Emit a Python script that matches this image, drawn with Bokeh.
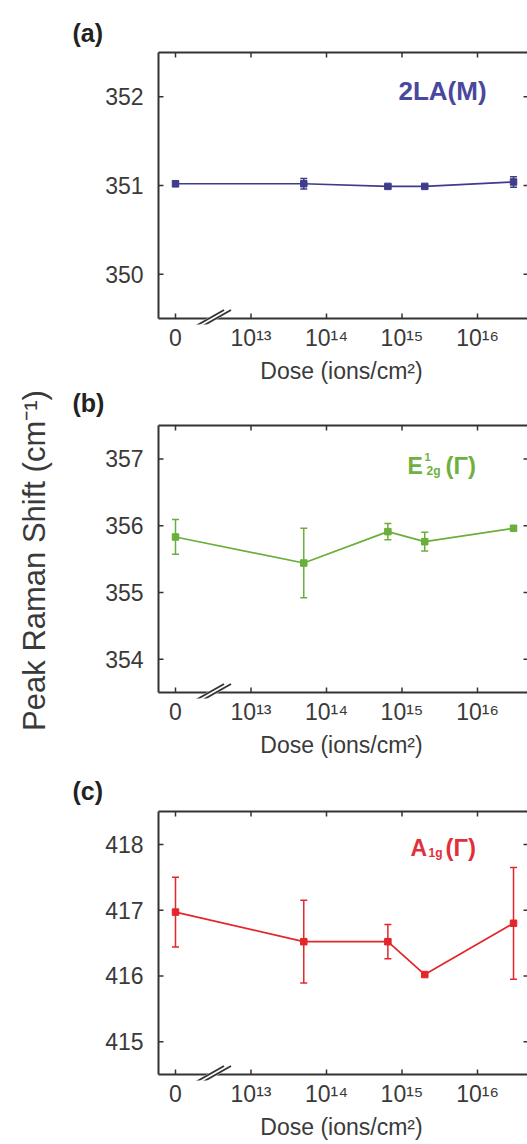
import math
from bokeh.plotting import figure
from bokeh.models import (ColumnDataSource, FixedTicker, Label, Whisker, TeeHead,
                          Range1d, Arrow, Title)
from bokeh.layouts import column, row
from bokeh.embed import file_html
from bokeh.resources import INLINE

# ---------------- data ----------------
dose = [0, 5e13, 6.5e14, 2e15, 3e16]                 # ions/cm^2
x_ticks = [12, 13, 14, 15, 16]                        # axis positions (log10 dose; 12 = zero dose)
x_tick_labels = ["0", "10¹³", "10¹⁴", "10¹⁵", "10¹⁶"]
zero_dose_position = 12

shift_2la = [351.02, 351.02, 350.99, 350.99, 351.04]
err_2la = [0.03, 0.06, 0.02, 0.02, 0.06]

shift_e2g = [355.83, 355.44, 355.91, 355.76, 355.96]
err_e2g = [0.26, 0.52, 0.12, 0.14, 0.03]

shift_a1g = [416.97, 416.52, 416.52, 416.02, 416.80]
err_a1g = [0.53, 0.63, 0.26, 0.02, 0.85]

y_ticks_a = [350, 351, 352]
y_ticks_b = [354, 355, 356, 357]
y_ticks_c = [415, 416, 417, 418]
y_range_a = (349.5, 352.5)
y_range_b = (353.5, 357.5)
y_range_c = (414.5, 418.5)

x_label = "Dose (ions/cm²)"
y_label = "Peak Raman Shift (cm⁻¹)"

# ---------------- style ----------------
FONT = "Liberation Sans"
AX = "#333333"
PAGE_W, PAGE_H = 527, 1144
LEFT_W = 60                        # strip holding the shared y label
FIG_W = PAGE_W - LEFT_W
FRAME_L = 155                      # frame left (page px)
BOX_L = 158                        # drawn box left (page px)
FRAME_W = PAGE_W - FRAME_L
PX_PER_DECADE = 75.5
ZERO_PX = 175
X_START = zero_dose_position - (ZERO_PX - FRAME_L) / PX_PER_DECADE
X_END = X_START + FRAME_W / PX_PER_DECADE
X_BOX = zero_dose_position - (ZERO_PX - BOX_L) / PX_PER_DECADE
PAD_TOP, PAD_BOT = 3, 6
LETTER_OFFSET = -(FRAME_L - 72)

x_pos = [zero_dose_position if d == 0 else math.log10(d) for d in dose]


def letter_title(text, standoff):
    return Title(text=text, text_font=FONT, text_font_size="25px", text_font_style="bold",
                 text_color="#222222", align="left", offset=LETTER_OFFSET, standoff=standoff)


panels = [
    dict(top_letter=("(a)", 6), bottom_letter=("(b)", 0),
         values=shift_2la, errors=err_2la, color="#3f3c8c", text_color="#4a489c",
         y_range=y_range_a, y_ticks=y_ticks_a, height=422, top=49, box_h=266,
         mode=[("2LA(M)", 240, -38, 26)]),
    dict(top_letter=None, bottom_letter=None,
         values=shift_e2g, errors=err_e2g, color="#6aae3c", text_color="#6fb040",
         y_range=y_range_b, y_ticks=y_ticks_b, height=348, top=0, box_h=267,
         mode=[("E", 249, -40, 23), ("1", 266, -31, 11), ("2g", 268, -45, 12),
               ("(Γ)", 287, -40, 24)]),
    dict(top_letter=("(c)", 7), bottom_letter=None,
         values=shift_a1g, errors=err_a1g, color="#e3262b", text_color="#e0303a",
         y_range=y_range_c, y_ticks=y_ticks_c, height=374, top=38, box_h=263,
         mode=[("A", 252, -36, 23), ("1g", 270, -41, 12), ("(Γ)", 287, -36, 24)]),
]

figs = []
for pa in panels:
    y0, y1 = pa["y_range"]
    pyu = pa["box_h"] / (y1 - y0)          # px per data unit (y)
    ppx = PX_PER_DECADE                    # px per data unit (x)
    frame_h = pa["box_h"] + PAD_TOP + PAD_BOT
    bottom = pa["height"] - pa["top"] - frame_h
    p = figure(width=FIG_W, height=pa["height"], output_backend="svg", toolbar_location=None,
               x_range=Range1d(X_START, X_END),
               y_range=Range1d(y0 - PAD_BOT / pyu, y1 + PAD_TOP / pyu),
               min_border_left=FRAME_L - LEFT_W, min_border_right=0,
               min_border_top=pa["top"], min_border_bottom=bottom, title=None)
    p.outline_line_color = None
    p.grid.visible = False
    p.background_fill_color = "white"
    p.border_fill_color = "white"

    if pa["top_letter"]:
        p.title = letter_title(*pa["top_letter"])

    # axes: labels only (box and ticks drawn below as glyphs)
    for ax in (p.xaxis[0], p.yaxis[0]):
        ax.axis_line_color = None
        ax.major_tick_line_color = None
        ax.major_tick_in = 0
        ax.major_tick_out = 0
        ax.minor_tick_line_color = None
        ax.major_label_text_font = FONT
        ax.major_label_text_font_size = "23px"
        ax.major_label_text_color = "#3a3a3a"
        ax.axis_label_text_font = FONT
        ax.axis_label_text_font_style = "normal"
        ax.axis_label_text_color = "#3a3a3a"

    p.xaxis.ticker = FixedTicker(ticks=x_ticks)
    p.xaxis.major_label_overrides = {t: lab for t, lab in zip(x_ticks, x_tick_labels)}
    p.xaxis.major_label_standoff = 0
    p.xaxis.axis_label = x_label
    p.xaxis.axis_label_text_font_size = "23px"
    p.xaxis.axis_label_standoff = 4

    if pa["bottom_letter"]:
        p.add_layout(letter_title(*pa["bottom_letter"]), "below")

    p.yaxis.ticker = FixedTicker(ticks=pa["y_ticks"])
    p.yaxis.major_label_standoff = 12

    # plot box
    box = dict(x0=[X_BOX, X_BOX, X_BOX], y0=[y0, y0, y1],
               x1=[X_BOX, X_END, X_END], y1=[y1, y0, y1])
    p.segment(x0="x0", y0="y0", x1="x1", y1="y1", source=ColumnDataSource(box),
              line_color=AX, line_width=2)
    # inward ticks
    nyt = len(pa["y_ticks"])
    tk_x0 = x_ticks + x_ticks + [X_BOX] * nyt + [X_END - 4 / ppx] * nyt
    tk_x1 = x_ticks + x_ticks + [X_BOX + 5 / ppx] * nyt + [X_END] * nyt
    tk_y0 = [y0] * len(x_ticks) + [y1] * len(x_ticks) + pa["y_ticks"] + pa["y_ticks"]
    tk_y1 = [y0 + 5 / pyu] * len(x_ticks) + [y1 - 5 / pyu] * len(x_ticks) + pa["y_ticks"] + pa["y_ticks"]
    p.segment(x0=tk_x0, y0=tk_y0, x1=tk_x1, y1=tk_y1, line_color=AX, line_width=1.5)

    # data
    src = ColumnDataSource(dict(
        x=x_pos, y=pa["values"],
        upper=[v + e for v, e in zip(pa["values"], pa["errors"])],
        lower=[v - e for v, e in zip(pa["values"], pa["errors"])],
    ))
    c = pa["color"]
    p.line("x", "y", source=src, line_color=c, line_width=1.7)
    p.add_layout(Whisker(source=src, base="x", upper="upper", lower="lower",
                         line_color=c, line_width=1.5,
                         upper_head=TeeHead(size=7, line_color=c, line_width=1.5),
                         lower_head=TeeHead(size=7, line_color=c, line_width=1.5)))
    p.scatter("x", "y", source=src, marker="square", size=6.5, fill_color=c, line_color=c)

    # axis-break marker
    xb = 12.49
    p.add_layout(Arrow(end=None, x_start=xb - 13 / ppx, y_start=y0 - 7.5 / pyu,
                       x_end=xb + 13 / ppx, y_end=y0 + 7.5 / pyu,
                       line_color="white", line_width=6))
    for off in (-3.5, 3.5):
        p.add_layout(Arrow(end=None, x_start=xb + (off - 15) / ppx, y_start=y0 - 8.5 / pyu,
                           x_end=xb + (off + 15) / ppx, y_end=y0 + 8.5 / pyu,
                           line_color=AX, line_width=1.8))

    # mode label
    for txt, dx, dy, size in pa["mode"]:
        p.add_layout(Label(x=X_BOX, y=y1, x_offset=dx, y_offset=dy, text=txt,
                           text_font=FONT, text_font_size=f"{size}px", text_font_style="bold",
                           text_color=pa["text_color"], text_baseline="alphabetic",
                           text_align="left"))
    figs.append(p)

# shared y label strip, its frame aligned with the middle panel's frame
mid_top = panels[0]["height"] + panels[1]["top"]
mid_bot = mid_top + panels[1]["box_h"] + PAD_TOP + PAD_BOT
lab = figure(width=LEFT_W, height=PAGE_H, output_backend="svg", toolbar_location=None,
             x_range=Range1d(0, 1), y_range=Range1d(0, 1), title=None,
             min_border_left=55, min_border_right=0,
             min_border_top=mid_top, min_border_bottom=PAGE_H - mid_bot,
             x_axis_location=None)
lab.outline_line_color = None
lab.grid.visible = False
lab.yaxis.ticker = FixedTicker(ticks=[])
lab.yaxis.axis_line_color = None
lab.yaxis.major_tick_line_color = None
lab.yaxis.minor_tick_line_color = None
lab.yaxis.major_tick_in = 0
lab.yaxis.major_tick_out = 0
lab.yaxis.axis_label = y_label
lab.yaxis.axis_label_text_font = FONT
lab.yaxis.axis_label_text_font_size = "31px"
lab.yaxis.axis_label_text_font_style = "normal"
lab.yaxis.axis_label_text_color = "#3a3a3a"
lab.yaxis.axis_label_standoff = 4

layout = row(lab, column(*figs, spacing=0), spacing=0)
open("out.html", "w").write(file_html(layout, INLINE))
